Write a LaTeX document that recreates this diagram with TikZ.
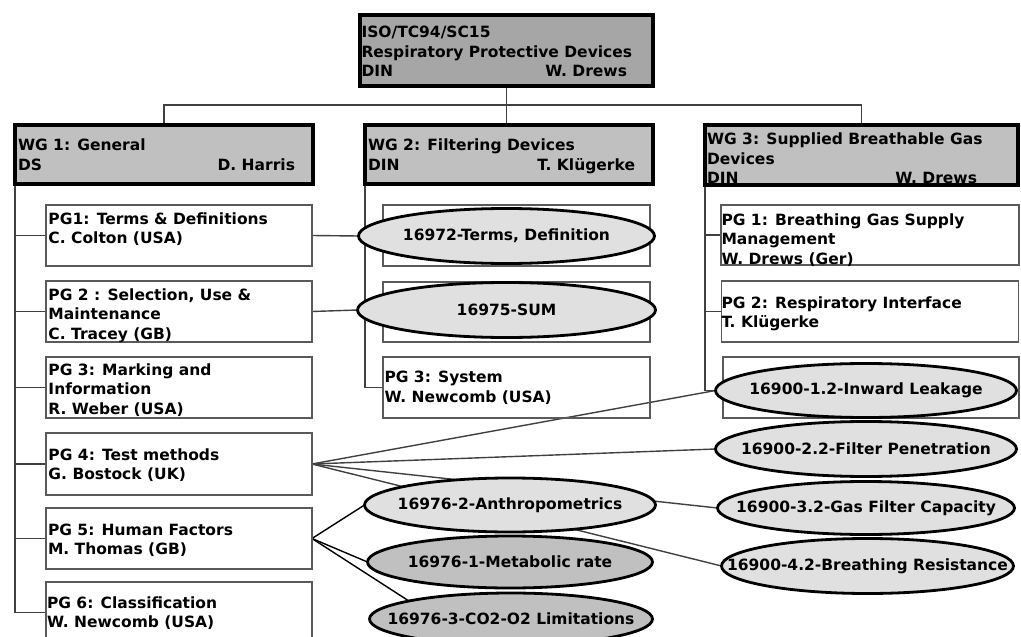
\documentclass[tikz,border=0pt]{standalone}
\usepackage{fontspec}
\setmainfont{DejaVu Sans}
\usetikzlibrary{shapes.geometric}
\pgfdeclarelayer{background}
\pgfsetlayers{background,main}
\definecolor{topfill}{HTML}{A6A6A6}
\definecolor{wgfill}{HTML}{C0C0C0}
\definecolor{elight}{HTML}{E0E0E0}
\definecolor{edark}{HTML}{C0C0C0}
\definecolor{linec}{HTML}{404040}
\definecolor{boxc}{HTML}{5A5A5A}
\tikzset{
 every node/.style={font=\fontsize{15.5}{19.5}\selectfont\bfseries, inner sep=0pt, outer sep=0pt},
 headbox/.style={draw=black, line width=4pt, fill=wgfill, rectangle},
 topbox/.style={headbox, fill=topfill},
 pgbox/.style={draw=boxc, line width=1.4pt, rectangle},
 stdell/.style={ellipse, draw=black, line width=2.8pt, fill=elight},
 darkell/.style={stdell, fill=edark},
 txt/.style={align=left, anchor=west},
 conn/.style={draw=linec, line width=1.4pt},
 connb/.style={draw=black, line width=1.4pt},
}
\begin{document}
\begin{tikzpicture}[x=1pt,y=-1pt]
\useasboundingbox (0,0) rectangle (1021,637);
\clip (0,0) rectangle (1021,637);
% header boxes
\node[topbox, minimum width=293pt, minimum height=71pt] (top) at (506.5,50.5) {};
\node[headbox, minimum width=298pt, minimum height=59pt] (wg1) at (164,154.5) {};
\node[headbox, minimum width=288pt, minimum height=59pt] (wg2) at (509,154.5) {};
\node[headbox, minimum width=313pt, minimum height=60pt] (wg3) at (861.5,155) {};
\node[txt] (ttop) at (361.5,51.5) {ISO/TC94/SC15\\Respiratory Protective Devices\\\makebox[265.5pt]{DIN\hfill W. Drews}};
\node[txt] (twg1) at (18,154.5) {WG 1: General\\\makebox[277pt]{DS\hfill D. Harris}};
\node[txt] (twg2) at (368,156.3) {WG 2: Filtering Devices\\\makebox[267pt]{DIN\hfill T. Klügerke}};
\node[txt] (twg3) at (707,158.7) {WG 3: Supplied Breathable Gas\\Devices\\\makebox[270pt]{DIN\hfill W. Drews}};
% WG1 project groups
\node[pgbox, minimum width=266pt, minimum height=61pt] (pg11) at (179,235.5) {};
\node[pgbox, minimum width=266pt, minimum height=61pt] (pg12) at (179,311.5) {};
\node[pgbox, minimum width=266pt, minimum height=61pt] (pg13) at (179,387.5) {};
\node[pgbox, minimum width=266pt, minimum height=62pt] (pg14) at (179,464) {};
\node[pgbox, minimum width=266pt, minimum height=61pt] (pg15) at (179,538.5) {};
\node[pgbox, minimum width=266pt, minimum height=61pt] (pg16) at (179,612.5) {};
\node[txt] (t11) at (48.5,229) {PG1: Terms \& Definitions\\C. Colton (USA)};
\node[txt] (t12) at (48.5,315.7) {PG 2 : Selection, Use \&\\Maintenance\\C. Tracey (GB)};
\node[txt] (t13) at (48.5,390) {PG 3: Marking and\\Information\\R. Weber (USA)};
\node[txt] (t14) at (48.5,465.3) {PG 4: Test methods\\G. Bostock (UK)};
\node[txt] (t15) at (48,540.3) {PG 5: Human Factors\\M. Thomas (GB)};
\node[txt] (t16) at (47,612.9) {PG 6: Classification\\W. Newcomb (USA)};
% WG2 project groups
\node[pgbox, minimum width=267pt, minimum height=61pt] (pg21) at (516.5,235.5) {};
\node[pgbox, minimum width=267pt, minimum height=60pt] (pg22) at (516.5,312) {};
\node[pgbox, minimum width=267pt, minimum height=61pt] (pg23) at (516.5,387.5) {};
\node[txt] (t23) at (384.5,387.9) {PG 3: System\\W. Newcomb (USA)};
% WG3 project groups
\node[pgbox, minimum width=298pt, minimum height=60pt] (pg31) at (870,235) {};
\node[pgbox, minimum width=297pt, minimum height=61pt] (pg32) at (870,311.5) {};
\node[pgbox, minimum width=296pt, minimum height=61pt] (pg33) at (871,387.5) {};
\node[txt] (t31) at (721.5,240) {PG 1: Breathing Gas Supply\\Management\\W. Drews (Ger)};
\node[txt] (t32) at (721.5,314) {PG 2: Respiratory Interface\\T. Klügerke};
% standards (ellipses)
\node[stdell, minimum width=296pt, minimum height=55pt] (e72) at (506.5,236) {};
\node[stdell, minimum width=298pt, minimum height=55pt] (e75) at (506.5,310) {};
\node[stdell, minimum width=301pt, minimum height=54pt] (eIL) at (866,390.5) {};
\node[stdell, minimum width=301pt, minimum height=55pt] (eFP) at (866,449) {};
\node[stdell, minimum width=297pt, minimum height=53pt] (eGF) at (866,508) {};
\node[stdell, minimum width=292pt, minimum height=55pt] (eBR) at (867.5,566) {};
\node[stdell, minimum width=291pt, minimum height=54pt] (eAn) at (510,505) {};
\node[darkell, minimum width=285pt, minimum height=52pt] (eMe) at (510,562) {};
\node[darkell, minimum width=283pt, minimum height=52pt] (eCO) at (511,619) {};
\node (l72) at (e72) {16972-Terms, Definition};
\node (l75) at (e75) {16975-SUM};
\node (lIL) at (eIL) {16900-1.2-Inward Leakage};
\node (lFP) at (eFP) {16900-2.2-Filter Penetration};
\node (lGF) at (eGF) {16900-3.2-Gas Filter Capacity};
\node (lBR) at (eBR) {16900-4.2-Breathing Resistance};
\node (lAn) at (eAn) {16976-2-Anthropometrics};
\node (lMe) at (eMe) {16976-1-Metabolic rate};
\node (lCO) at (eCO) {16976-3-CO2-O2 Limitations};
\coordinate (hub) at (506.5,105);
\begin{pgfonlayer}{background}
% tree
\draw[conn] (top.south) -- (top.south |- wg2.north);
\draw[conn] (wg1.north) |- (hub) -| (wg3.north);
% WG1 spine
\draw[conn] (wg1.south west) |- (pg16.west);
\foreach \p in {pg11,pg12,pg13,pg14,pg15}
  \draw[conn] (\p.west) -- (\p.west -| wg1.south west);
% WG2 spine
\draw[conn] (wg2.south west) |- (pg23.west);
% WG3 spine
\draw[conn] (wg3.south west) |- (eIL.west);
\draw[conn] (pg31.west) -- (pg31.west -| wg3.south west);
\draw[conn] (pg32.west) -- (pg32.west -| wg3.south west);
% cross links
\draw[conn] (pg11.east) -- (e72.west);
\draw[conn] (pg12.east) -- (e75.west);
\draw[conn] (pg14.east) -- (eIL.west);
\draw[conn] (pg14.east) -- (eFP.west);
\draw[conn] (pg14.east) -- (eGF.west);
\draw[conn] (pg14.east) -- (eBR.west);
\draw[connb] (pg15.east) -- (eAn.west);
\draw[connb] (pg15.east) -- (eMe.west);
\draw[connb] (pg15.east) -- (eCO.170);
\end{pgfonlayer}
\end{tikzpicture}
\end{document}
